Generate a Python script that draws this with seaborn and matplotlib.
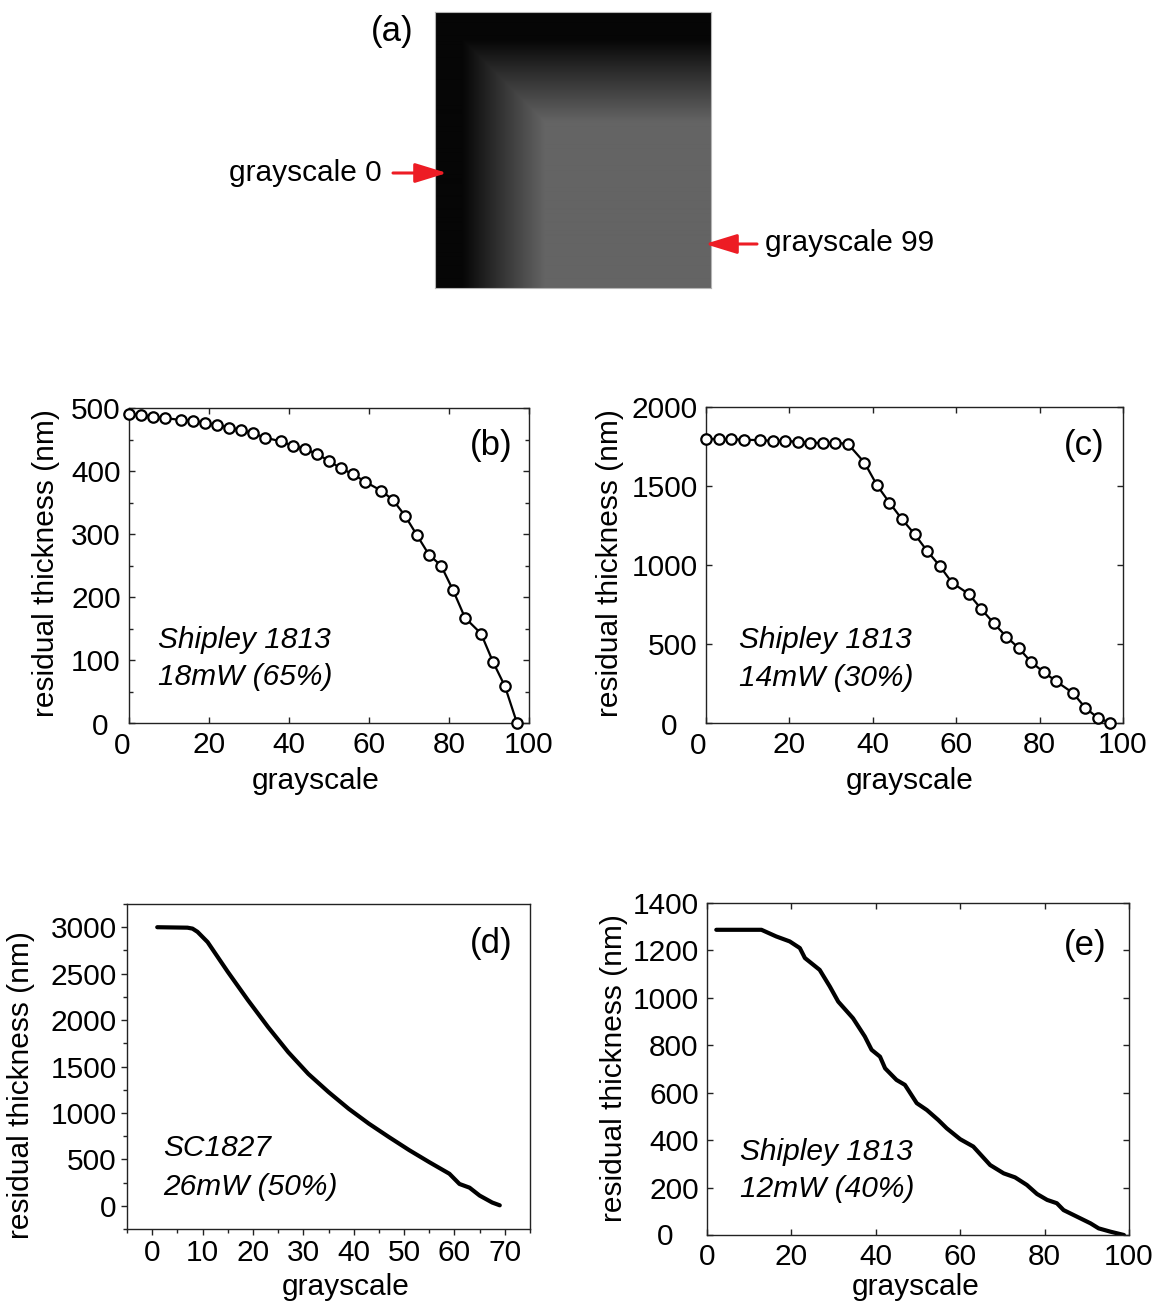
import numpy as np
import pandas as pd
import matplotlib
matplotlib.use("Agg")
import matplotlib.pyplot as plt
from matplotlib.ticker import MultipleLocator, FuncFormatter
from matplotlib.patches import FancyArrowPatch
import seaborn as sns

# ---------------- data ----------------
# (b) Shipley 1813, 18 mW (65%)
b_gray = [0, 3, 6, 9, 13, 16, 19, 22, 25, 28, 31, 34, 38, 41, 44, 47,
          50, 53, 56, 59, 63, 66, 69, 72, 75, 78, 81, 84, 88, 91, 94, 97]
b_thick = [490, 489, 486, 484, 481, 480, 476, 473, 469, 465, 460, 453, 447, 440, 435, 427,
           416, 404, 395, 383, 369, 354, 329, 298, 267, 250, 211, 167, 142, 97, 58, 0]

# (c) Shipley 1813, 14 mW (30%)
c_gray = [0, 3, 6, 9, 13, 16, 19, 22, 25, 28, 31, 34, 38, 41, 44, 47,
          50, 53, 56, 59, 63, 66, 69, 72, 75, 78, 81, 84, 88, 91, 94, 97]
c_thick = [1800, 1796, 1796, 1793, 1790, 1786, 1786, 1779, 1775, 1772, 1772, 1768, 1648, 1505, 1394, 1290,
           1196, 1090, 996, 888, 817, 722, 632, 547, 474, 385, 322, 263, 190, 95, 32, 0]

# (d) SC1827, 26 mW (50%)
d_gray = [1, 7, 8, 9, 11, 15, 19, 23, 27, 31, 35, 39, 43, 47, 51, 55, 59, 61, 63, 65, 67.5, 69]
d_thick = [3000, 2995, 2985, 2950, 2840, 2520, 2215, 1925, 1655, 1420, 1225, 1045, 885, 740,
           600, 470, 345, 235, 195, 110, 35, 5]

# (e) Shipley 1813, 12 mW (40%)
e_gray = [2.2, 12.9, 16.4, 19.6, 22.0, 23.2, 26.7, 29.1, 31.1, 34.6, 37.4, 39.0, 41.0, 42.2,
          44.9, 46.9, 49.7, 52.1, 54.8, 56.8, 60.0, 63.1, 67.1, 70.3, 73.0, 75.8, 78.2, 80.6,
          82.9, 84.5, 87.7, 90.9, 92.8, 95.6, 98.8]
e_thick = [1287, 1287, 1259, 1238, 1210, 1168, 1118, 1048, 984, 914, 837, 781, 752, 703,
           654, 633, 556, 527, 485, 450, 404, 373, 295, 260, 243, 211, 173, 148,
           134, 105, 77, 49, 28, 14, 0]

panel_notes = {
    "b": ("Shipley 1813", "18mW (65%)"),
    "c": ("Shipley 1813", "14mW (30%)"),
    "d": ("SC1827", "26mW (50%)"),
    "e": ("Shipley 1813", "12mW (40%)"),
}

# gray-level ramp of the exposure pattern (position along edge, gray level)
ramp_pos = [0.0, 0.10, 0.22, 0.40, 1.0]
ramp_level = [6, 6, 45, 100, 100]

# ---------------- style ----------------
sns.set_theme(style="ticks")
plt.rcParams["font.family"] = ["Liberation Sans", "DejaVu Sans"]
plt.rcParams["text.color"] = "black"
plt.rcParams["axes.labelcolor"] = "black"
plt.rcParams["xtick.labelcolor"] = "black"
plt.rcParams["ytick.labelcolor"] = "black"
plt.rcParams["xtick.color"] = "#222222"
plt.rcParams["ytick.color"] = "#222222"

W, H = 1159, 1304
fig = plt.figure(figsize=(W / 100, H / 100), dpi=100)
fig.patch.set_facecolor("white")

TICK_FS = 21.5
LABEL_FS = 21.5
NOTE_FS = 21.5
PANEL_FS = 25


def px_axes(left, top, right, bottom):
    return fig.add_axes([left / W, 1 - bottom / H, (right - left) / W, (bottom - top) / H])


def ftext(x, y, s, **kw):
    return fig.text(x / W, 1 - y / H, s, **kw)


def skip_zero(v, pos):
    return "" if abs(v) < 1e-9 else f"{v:g}"


def style_box(ax, direction="in"):
    for s in ax.spines.values():
        s.set_visible(True)
        s.set_linewidth(1.0)
        s.set_color("#222222")
    if direction == "in":
        ax.tick_params(which="both", direction="in", top=True, right=True,
                       labelsize=TICK_FS, pad=6)
    else:
        ax.tick_params(which="both", direction="out", top=False, right=False,
                       labelsize=TICK_FS, pad=3)
    ax.tick_params(which="major", length=4.5, width=1.0)
    ax.tick_params(which="minor", length=3, width=1.0)
    ax.set_xlabel("")
    ax.set_ylabel("")


# ---------------- (a) gray-scale pattern ----------------
ax_a = px_axes(435, 12, 711, 288)
n = 276
t = (np.arange(n) + 0.5) / n
prof = np.interp(t, ramp_pos, ramp_level)
pattern = np.minimum(prof[None, :], prof[:, None])
ax_a.imshow(pattern, cmap="gray", vmin=0, vmax=255, interpolation="bilinear",
            aspect="auto")
ax_a.set_xticks([])
ax_a.set_yticks([])
for s in ax_a.spines.values():
    s.set_visible(True)
    s.set_color("#b5b5b5")
    s.set_linewidth(0.8)

ftext(392, 32, "(a)", fontsize=PANEL_FS, ha="center", va="center")
ftext(382, 173, "grayscale 0", fontsize=TICK_FS, ha="right", va="center")
ftext(765, 243, "grayscale 99", fontsize=TICK_FS, ha="left", va="center")
red = "#ed1c24"
arrow_kw = dict(arrowstyle="-|>,head_length=0.65,head_width=0.2", color=red, lw=2.2,
                mutation_scale=30, shrinkA=0, shrinkB=0)
fig.add_artist(FancyArrowPatch(
    (393 / W, 1 - 173 / H), (447 / W, 1 - 173 / H), transform=fig.transFigure, **arrow_kw))
fig.add_artist(FancyArrowPatch(
    (757 / W, 1 - 244 / H), (705 / W, 1 - 244 / H), transform=fig.transFigure, **arrow_kw))

marker_kw = dict(color="black", lw=1.6, marker="o", markersize=7.5, markerfacecolor="white",
                 markeredgecolor="black", markeredgewidth=1.6, clip_on=False, zorder=5)
curve_kw = dict(color="black", lw=3.0, solid_capstyle="round", solid_joinstyle="round")

# ---------------- (b) ----------------
ax_b = px_axes(129, 408, 529, 723)
df_b = pd.DataFrame({"grayscale": b_gray, "thickness": b_thick})
sns.lineplot(data=df_b, x="grayscale", y="thickness", ax=ax_b, estimator=None, sort=False,
             **marker_kw)
ax_b.set_xlim(0, 100)
ax_b.set_ylim(0, 500)
ax_b.xaxis.set_major_locator(MultipleLocator(20))
ax_b.yaxis.set_major_locator(MultipleLocator(100))
ax_b.yaxis.set_minor_locator(MultipleLocator(50))
style_box(ax_b, "in")

# ---------------- (c) ----------------
ax_c = px_axes(706, 407, 1123, 723)
df_c = pd.DataFrame({"grayscale": c_gray, "thickness": c_thick})
sns.lineplot(data=df_c, x="grayscale", y="thickness", ax=ax_c, estimator=None, sort=False,
             **marker_kw)
ax_c.set_xlim(0, 100)
ax_c.set_ylim(0, 2000)
ax_c.xaxis.set_major_locator(MultipleLocator(20))
ax_c.yaxis.set_major_locator(MultipleLocator(500))
style_box(ax_c, "in")

# ---------------- (d) ----------------
ax_d = px_axes(127, 904, 530, 1229)
df_d = pd.DataFrame({"grayscale": d_gray, "thickness": d_thick})
sns.lineplot(data=df_d, x="grayscale", y="thickness", ax=ax_d, estimator=None, sort=False,
             **curve_kw)
ax_d.set_xlim(-5, 75)
ax_d.set_ylim(-250, 3250)
ax_d.xaxis.set_major_locator(MultipleLocator(10))
ax_d.xaxis.set_minor_locator(MultipleLocator(5))
ax_d.yaxis.set_major_locator(MultipleLocator(500))
ax_d.yaxis.set_minor_locator(MultipleLocator(250))
style_box(ax_d, "out")

# ---------------- (e) ----------------
ax_e = px_axes(707, 903, 1129, 1235)
df_e = pd.DataFrame({"grayscale": e_gray, "thickness": e_thick})
sns.lineplot(data=df_e, x="grayscale", y="thickness", ax=ax_e, estimator=None, sort=False,
             **curve_kw)
ax_e.set_xlim(0, 100)
ax_e.set_ylim(0, 1400)
ax_e.xaxis.set_major_locator(MultipleLocator(20))
ax_e.yaxis.set_major_locator(MultipleLocator(200))
style_box(ax_e, "in")

# origin labels sit apart from the corner on the boxed panels
for ax in (ax_b, ax_c, ax_e):
    ax.yaxis.set_major_formatter(FuncFormatter(skip_zero))
for ax in (ax_b, ax_c):
    ax.xaxis.set_major_formatter(FuncFormatter(skip_zero))
zero_pos = [(100, 727), (122, 746), (669, 727), (698, 746), (665, 1237)]
for x, y in zero_pos:
    ftext(x, y, "0", fontsize=TICK_FS, ha="center", va="center")

# ---------------- labels & notes ----------------
ylab = "residual thickness (nm)"
ftext(46, 563, ylab, fontsize=LABEL_FS, rotation=90, ha="center", va="center")
ftext(610, 563, ylab, fontsize=LABEL_FS, rotation=90, ha="center", va="center")
ftext(21, 1085, ylab, fontsize=LABEL_FS, rotation=90, ha="center", va="center")
ftext(614, 1068, ylab, fontsize=LABEL_FS, rotation=90, ha="center", va="center")

ftext(316, 781, "grayscale", fontsize=LABEL_FS, ha="center", va="center")
ftext(910, 781, "grayscale", fontsize=LABEL_FS, ha="center", va="center")
ftext(346, 1287, "grayscale", fontsize=LABEL_FS, ha="center", va="center")
ftext(916, 1287, "grayscale", fontsize=LABEL_FS, ha="center", va="center")

note_pos = {"b": (158, 640, 677), "c": (739, 640, 678), "d": (163, 1148, 1187), "e": (740, 1152, 1189)}
for key, (x, y1, y2) in note_pos.items():
    l1, l2 = panel_notes[key]
    ftext(x, y1, l1, fontsize=NOTE_FS, style="italic", ha="left", va="center")
    ftext(x, y2, l2, fontsize=NOTE_FS, style="italic", ha="left", va="center")

panel_pos = {"b": (512, 446), "c": (1105, 445), "d": (512, 943), "e": (1107, 945)}
for key, (x, y) in panel_pos.items():
    ftext(x, y, f"({key})", fontsize=PANEL_FS, ha="right", va="center")

fig.savefig("out.png", dpi=100, facecolor="white")
